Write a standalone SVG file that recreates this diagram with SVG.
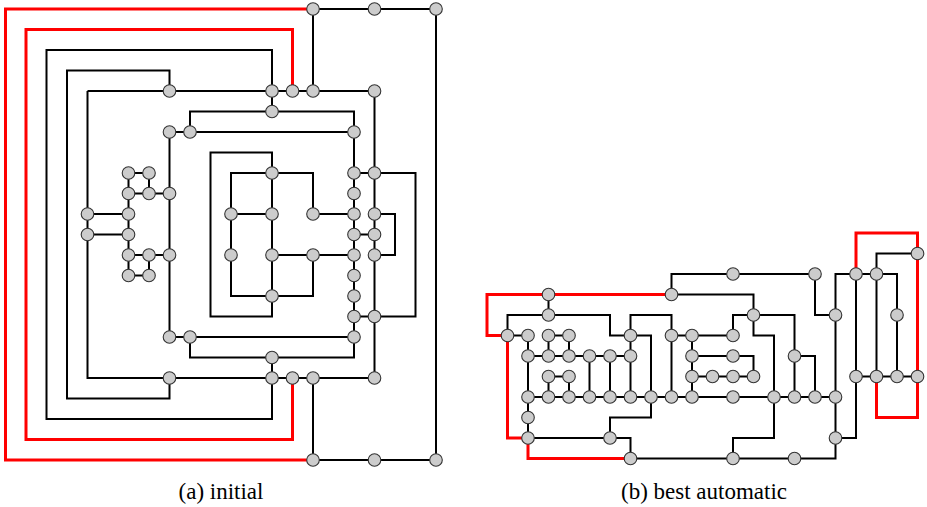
<svg xmlns="http://www.w3.org/2000/svg" width="927" height="507" viewBox="0 0 927 507">
<style>
.e{fill:none;stroke:#000;stroke-width:2;stroke-linejoin:miter}
.r{fill:none;stroke:#ff0000;stroke-width:3;stroke-linejoin:miter}
.n{fill:#cccccc;stroke:#333;stroke-width:1.1}
.cap{font-family:"Liberation Serif","Times New Roman",serif;font-size:23px;fill:#000;text-anchor:middle}
</style>
<rect width="927" height="507" fill="#fff"/>

<!-- (a) initial layout: connectors -->
<g id="a-edges">
<polyline class="e" points="313,460 436,460 436,9 313,9"/>
<polyline class="e" points="313,9 313,91"/>
<polyline class="e" points="313,460 313,378"/>
<polyline class="e" points="87.5,91 374.5,91 374.5,378 87.5,378 87.5,91"/>
<polyline class="e" points="272,91 272,50 46.5,50 46.5,419 272,419 272,378"/>
<polyline class="e" points="169.5,91 169.5,70.5 67,70.5 67,398.5 169.5,398.5 169.5,378"/>
<polyline class="e" points="272,91 272,111.5"/>
<polyline class="e" points="190,132 190,111.5 354,111.5 354,132"/>
<polyline class="e" points="169.5,132 354,132"/>
<polyline class="e" points="169.5,132 169.5,337"/>
<polyline class="e" points="169.5,337 354,337"/>
<polyline class="e" points="190,337 190,357.5 354,357.5 354,337"/>
<polyline class="e" points="272,357.5 272,378"/>
<polyline class="e" points="354,132 354,337"/>
<polyline class="e" points="128.5,173 149,173 149,193.5"/>
<polyline class="e" points="128.5,173 128.5,275.5 149,275.5 149,255"/>
<polyline class="e" points="128.5,193.5 169.5,193.5"/>
<polyline class="e" points="128.5,255 169.5,255"/>
<polyline class="e" points="87.5,214 128.5,214"/>
<polyline class="e" points="87.5,234.5 128.5,234.5"/>
<polyline class="e" points="272,173 272,152.5 210.5,152.5 210.5,316.5 272,316.5 272,296"/>
<polyline class="e" points="272,173 272,296"/>
<polyline class="e" points="313,214 313,173 231,173 231,296 313,296 313,255"/>
<polyline class="e" points="231,214 272,214"/>
<polyline class="e" points="313,214 354,214"/>
<polyline class="e" points="272,255 354,255"/>
<polyline class="e" points="354,173 374.5,173"/>
<polyline class="e" points="354,234.5 374.5,234.5"/>
<polyline class="e" points="354,316.5 374.5,316.5"/>
<polyline class="e" points="374.5,173 415.5,173 415.5,316.5 374.5,316.5"/>
<polyline class="e" points="374.5,214 395,214 395,255 374.5,255"/>
<polyline class="r" points="313,9 5.5,9 5.5,460 313,460"/>
<polyline class="r" points="292.5,91 292.5,29.5 26,29.5 26,439.5 292.5,439.5 292.5,378"/>
</g>

<!-- (b) best automatic layout: connectors -->
<g id="b-edges">
<polyline class="e" points="507.5,335.5 507.5,315 610,315 610,335.5 630.5,335.5"/>
<polyline class="e" points="548.5,294.5 548.5,315"/>
<polyline class="e" points="507.5,335.5 528,335.5 528,438"/>
<polyline class="e" points="548.5,356 548.5,335.5 569,335.5 569,356"/>
<polyline class="e" points="528,356 630.5,356"/>
<polyline class="e" points="589.5,356 589.5,397"/>
<polyline class="e" points="610,356 610,397"/>
<polyline class="e" points="630.5,335.5 630.5,397"/>
<polyline class="e" points="548.5,397 548.5,376.5 569,376.5 569,397"/>
<polyline class="e" points="528,397 835.5,397"/>
<polyline class="e" points="630.5,335.5 630.5,315 671.5,315 671.5,335.5"/>
<polyline class="e" points="630.5,335.5 651,335.5 651,417.5 610,417.5 610,438"/>
<polyline class="e" points="528,438 630.5,438 630.5,458.5 835.5,458.5 835.5,438"/>
<polyline class="e" points="671.5,335.5 733,335.5"/>
<polyline class="e" points="671.5,335.5 671.5,397"/>
<polyline class="e" points="692,335.5 692,397"/>
<polyline class="e" points="692,356 753.5,356 753.5,376.5"/>
<polyline class="e" points="692,376.5 753.5,376.5"/>
<polyline class="e" points="671.5,294.5 671.5,274 815,274 815,315 835.5,315"/>
<polyline class="e" points="671.5,294.5 753.5,294.5 753.5,315"/>
<polyline class="e" points="753.5,315 733,315 733,335.5"/>
<polyline class="e" points="753.5,315 753.5,335.5 774,335.5 774,438 733,438 733,458.5"/>
<polyline class="e" points="753.5,315 794.5,315 794.5,397"/>
<polyline class="e" points="794.5,356 815,356 815,397"/>
<polyline class="e" points="856,274 835.5,274 835.5,438"/>
<polyline class="e" points="835.5,438 856,438 856,376.5"/>
<polyline class="e" points="856,274 856,376.5"/>
<polyline class="e" points="856,274 897,274 897,376.5"/>
<polyline class="e" points="876.5,376.5 876.5,253.5 917.5,253.5"/>
<polyline class="e" points="856,376.5 917.5,376.5"/>
<polyline class="r" points="671.5,294.5 487,294.5 487,335.5 507.5,335.5 507.5,438 528,438 528,458.5 630.5,458.5"/>
<polyline class="r" points="856,274 856,233 917.5,233 917.5,417.5 876.5,417.5 876.5,376.5"/>
</g>

<!-- (a) nodes -->
<g id="a-nodes">
<g id="a15-0"><circle class="n" cx="313" cy="9" r="6.3"/></g>
<g id="a18-0"><circle class="n" cx="374.5" cy="9" r="6.3"/></g>
<g id="a21-0"><circle class="n" cx="436" cy="9" r="6.3"/></g>
<g id="a8-4"><circle class="n" cx="169.5" cy="91" r="6.3"/></g>
<g id="a13-4"><circle class="n" cx="272" cy="91" r="6.3"/></g>
<g id="a14-4"><circle class="n" cx="292.5" cy="91" r="6.3"/></g>
<g id="a15-4"><circle class="n" cx="313" cy="91" r="6.3"/></g>
<g id="a18-4"><circle class="n" cx="374.5" cy="91" r="6.3"/></g>
<g id="a13-5"><circle class="n" cx="272" cy="111.5" r="6.3"/></g>
<g id="a8-6"><circle class="n" cx="169.5" cy="132" r="6.3"/></g>
<g id="a9-6"><circle class="n" cx="190" cy="132" r="6.3"/></g>
<g id="a17-6"><circle class="n" cx="354" cy="132" r="6.3"/></g>
<g id="a6-8"><circle class="n" cx="128.5" cy="173" r="6.3"/></g>
<g id="a7-8"><circle class="n" cx="149" cy="173" r="6.3"/></g>
<g id="a13-8"><circle class="n" cx="272" cy="173" r="6.3"/></g>
<g id="a17-8"><circle class="n" cx="354" cy="173" r="6.3"/></g>
<g id="a18-8"><circle class="n" cx="374.5" cy="173" r="6.3"/></g>
<g id="a6-9"><circle class="n" cx="128.5" cy="193.5" r="6.3"/></g>
<g id="a7-9"><circle class="n" cx="149" cy="193.5" r="6.3"/></g>
<g id="a8-9"><circle class="n" cx="169.5" cy="193.5" r="6.3"/></g>
<g id="a17-9"><circle class="n" cx="354" cy="193.5" r="6.3"/></g>
<g id="a4-10"><circle class="n" cx="87.5" cy="214" r="6.3"/></g>
<g id="a6-10"><circle class="n" cx="128.5" cy="214" r="6.3"/></g>
<g id="a11-10"><circle class="n" cx="231" cy="214" r="6.3"/></g>
<g id="a13-10"><circle class="n" cx="272" cy="214" r="6.3"/></g>
<g id="a15-10"><circle class="n" cx="313" cy="214" r="6.3"/></g>
<g id="a17-10"><circle class="n" cx="354" cy="214" r="6.3"/></g>
<g id="a18-10"><circle class="n" cx="374.5" cy="214" r="6.3"/></g>
<g id="a4-11"><circle class="n" cx="87.5" cy="234.5" r="6.3"/></g>
<g id="a6-11"><circle class="n" cx="128.5" cy="234.5" r="6.3"/></g>
<g id="a17-11"><circle class="n" cx="354" cy="234.5" r="6.3"/></g>
<g id="a18-11"><circle class="n" cx="374.5" cy="234.5" r="6.3"/></g>
<g id="a6-12"><circle class="n" cx="128.5" cy="255" r="6.3"/></g>
<g id="a7-12"><circle class="n" cx="149" cy="255" r="6.3"/></g>
<g id="a8-12"><circle class="n" cx="169.5" cy="255" r="6.3"/></g>
<g id="a11-12"><circle class="n" cx="231" cy="255" r="6.3"/></g>
<g id="a13-12"><circle class="n" cx="272" cy="255" r="6.3"/></g>
<g id="a15-12"><circle class="n" cx="313" cy="255" r="6.3"/></g>
<g id="a17-12"><circle class="n" cx="354" cy="255" r="6.3"/></g>
<g id="a18-12"><circle class="n" cx="374.5" cy="255" r="6.3"/></g>
<g id="a6-13"><circle class="n" cx="128.5" cy="275.5" r="6.3"/></g>
<g id="a7-13"><circle class="n" cx="149" cy="275.5" r="6.3"/></g>
<g id="a17-13"><circle class="n" cx="354" cy="275.5" r="6.3"/></g>
<g id="a13-14"><circle class="n" cx="272" cy="296" r="6.3"/></g>
<g id="a17-14"><circle class="n" cx="354" cy="296" r="6.3"/></g>
<g id="a17-15"><circle class="n" cx="354" cy="316.5" r="6.3"/></g>
<g id="a18-15"><circle class="n" cx="374.5" cy="316.5" r="6.3"/></g>
<g id="a8-16"><circle class="n" cx="169.5" cy="337" r="6.3"/></g>
<g id="a9-16"><circle class="n" cx="190" cy="337" r="6.3"/></g>
<g id="a17-16"><circle class="n" cx="354" cy="337" r="6.3"/></g>
<g id="a13-17"><circle class="n" cx="272" cy="357.5" r="6.3"/></g>
<g id="a8-18"><circle class="n" cx="169.5" cy="378" r="6.3"/></g>
<g id="a13-18"><circle class="n" cx="272" cy="378" r="6.3"/></g>
<g id="a14-18"><circle class="n" cx="292.5" cy="378" r="6.3"/></g>
<g id="a15-18"><circle class="n" cx="313" cy="378" r="6.3"/></g>
<g id="a18-18"><circle class="n" cx="374.5" cy="378" r="6.3"/></g>
<g id="a15-22"><circle class="n" cx="313" cy="460" r="6.3"/></g>
<g id="a18-22"><circle class="n" cx="374.5" cy="460" r="6.3"/></g>
<g id="a21-22"><circle class="n" cx="436" cy="460" r="6.3"/></g>
</g>

<!-- (b) nodes -->
<g id="b-nodes">
<g id="b21-1"><circle class="n" cx="917.5" cy="253.5" r="6.3"/></g>
<g id="b12-2"><circle class="n" cx="733" cy="274" r="6.3"/></g>
<g id="b16-2"><circle class="n" cx="815" cy="274" r="6.3"/></g>
<g id="b18-2"><circle class="n" cx="856" cy="274" r="6.3"/></g>
<g id="b19-2"><circle class="n" cx="876.5" cy="274" r="6.3"/></g>
<g id="b3-3"><circle class="n" cx="548.5" cy="294.5" r="6.3"/></g>
<g id="b9-3"><circle class="n" cx="671.5" cy="294.5" r="6.3"/></g>
<g id="b3-4"><circle class="n" cx="548.5" cy="315" r="6.3"/></g>
<g id="b13-4"><circle class="n" cx="753.5" cy="315" r="6.3"/></g>
<g id="b17-4"><circle class="n" cx="835.5" cy="315" r="6.3"/></g>
<g id="b20-4"><circle class="n" cx="897" cy="315" r="6.3"/></g>
<g id="b1-5"><circle class="n" cx="507.5" cy="335.5" r="6.3"/></g>
<g id="b2-5"><circle class="n" cx="528" cy="335.5" r="6.3"/></g>
<g id="b3-5"><circle class="n" cx="548.5" cy="335.5" r="6.3"/></g>
<g id="b4-5"><circle class="n" cx="569" cy="335.5" r="6.3"/></g>
<g id="b7-5"><circle class="n" cx="630.5" cy="335.5" r="6.3"/></g>
<g id="b9-5"><circle class="n" cx="671.5" cy="335.5" r="6.3"/></g>
<g id="b10-5"><circle class="n" cx="692" cy="335.5" r="6.3"/></g>
<g id="b12-5"><circle class="n" cx="733" cy="335.5" r="6.3"/></g>
<g id="b2-6"><circle class="n" cx="528" cy="356" r="6.3"/></g>
<g id="b3-6"><circle class="n" cx="548.5" cy="356" r="6.3"/></g>
<g id="b4-6"><circle class="n" cx="569" cy="356" r="6.3"/></g>
<g id="b5-6"><circle class="n" cx="589.5" cy="356" r="6.3"/></g>
<g id="b6-6"><circle class="n" cx="610" cy="356" r="6.3"/></g>
<g id="b7-6"><circle class="n" cx="630.5" cy="356" r="6.3"/></g>
<g id="b10-6"><circle class="n" cx="692" cy="356" r="6.3"/></g>
<g id="b12-6"><circle class="n" cx="733" cy="356" r="6.3"/></g>
<g id="b15-6"><circle class="n" cx="794.5" cy="356" r="6.3"/></g>
<g id="b3-7"><circle class="n" cx="548.5" cy="376.5" r="6.3"/></g>
<g id="b4-7"><circle class="n" cx="569" cy="376.5" r="6.3"/></g>
<g id="b10-7"><circle class="n" cx="692" cy="376.5" r="6.3"/></g>
<g id="b11-7"><circle class="n" cx="712.5" cy="376.5" r="6.3"/></g>
<g id="b12-7"><circle class="n" cx="733" cy="376.5" r="6.3"/></g>
<g id="b13-7"><circle class="n" cx="753.5" cy="376.5" r="6.3"/></g>
<g id="b18-7"><circle class="n" cx="856" cy="376.5" r="6.3"/></g>
<g id="b19-7"><circle class="n" cx="876.5" cy="376.5" r="6.3"/></g>
<g id="b20-7"><circle class="n" cx="897" cy="376.5" r="6.3"/></g>
<g id="b21-7"><circle class="n" cx="917.5" cy="376.5" r="6.3"/></g>
<g id="b2-8"><circle class="n" cx="528" cy="397" r="6.3"/></g>
<g id="b3-8"><circle class="n" cx="548.5" cy="397" r="6.3"/></g>
<g id="b4-8"><circle class="n" cx="569" cy="397" r="6.3"/></g>
<g id="b5-8"><circle class="n" cx="589.5" cy="397" r="6.3"/></g>
<g id="b6-8"><circle class="n" cx="610" cy="397" r="6.3"/></g>
<g id="b7-8"><circle class="n" cx="630.5" cy="397" r="6.3"/></g>
<g id="b8-8"><circle class="n" cx="651" cy="397" r="6.3"/></g>
<g id="b9-8"><circle class="n" cx="671.5" cy="397" r="6.3"/></g>
<g id="b10-8"><circle class="n" cx="692" cy="397" r="6.3"/></g>
<g id="b12-8"><circle class="n" cx="733" cy="397" r="6.3"/></g>
<g id="b14-8"><circle class="n" cx="774" cy="397" r="6.3"/></g>
<g id="b15-8"><circle class="n" cx="794.5" cy="397" r="6.3"/></g>
<g id="b16-8"><circle class="n" cx="815" cy="397" r="6.3"/></g>
<g id="b17-8"><circle class="n" cx="835.5" cy="397" r="6.3"/></g>
<g id="b2-9"><circle class="n" cx="528" cy="417.5" r="6.3"/></g>
<g id="b2-10"><circle class="n" cx="528" cy="438" r="6.3"/></g>
<g id="b6-10"><circle class="n" cx="610" cy="438" r="6.3"/></g>
<g id="b17-10"><circle class="n" cx="835.5" cy="438" r="6.3"/></g>
<g id="b7-11"><circle class="n" cx="630.5" cy="458.5" r="6.3"/></g>
<g id="b12-11"><circle class="n" cx="733" cy="458.5" r="6.3"/></g>
<g id="b15-11"><circle class="n" cx="794.5" cy="458.5" r="6.3"/></g>
</g>

<g id="captions">
<text class="cap" x="221" y="499">(a) initial</text>
<text class="cap" x="704" y="499">(b) best automatic</text>
</g>
</svg>
